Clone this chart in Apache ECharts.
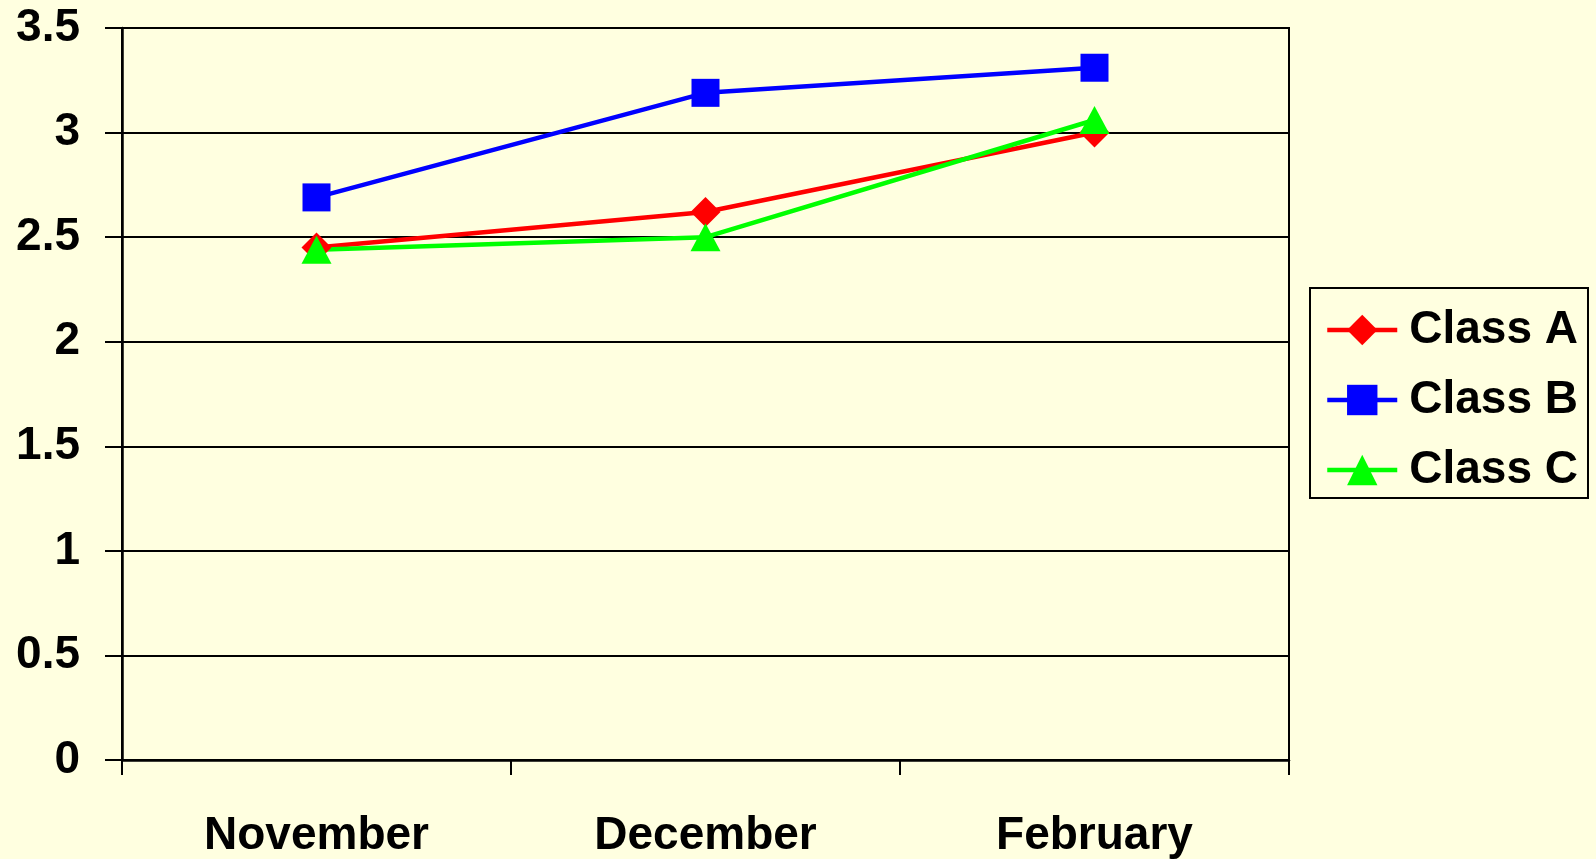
<!DOCTYPE html>
<html>
<head>
<meta charset="utf-8">
<script src="https://cdn.jsdelivr.net/npm/echarts@6/dist/echarts.min.js"></script>
<style>
  html, body { margin: 0; padding: 0; background: #ffffe0; }
  #main { width: 1596px; height: 859px; }
</style>
</head>
<body>
<div id="main"></div>
<script>
// data
var months = ['November', 'December', 'February'];
var classA = [2.45, 2.62, 3.0];
var classB = [2.69, 3.19, 3.31];
var classC = [2.44, 2.5, 3.06];
var yTicks = [0, 0.5, 1, 1.5, 2, 2.5, 3, 3.5];

var font = '"Liberation Sans", Arial, sans-serif';

var chart = echarts.init(document.getElementById('main'));

function lineSeries(name, data, color, symbol, size) {
    return {
        name: name,
        type: 'line',
        data: data,
        symbol: symbol,
        symbolSize: size,
        showAllSymbol: true,
        lineStyle: { color: color, width: 4.5 },
        itemStyle: { color: color },
        emphasis: { disabled: true },
        animation: false
    };
}

chart.setOption({
    backgroundColor: '#ffffe0',
    textStyle: { fontFamily: font },
    grid: {
        left: 122,
        right: 307,
        top: 28,
        bottom: 99,
        show: true,
        borderColor: '#000',
        borderWidth: 2,
        backgroundColor: 'transparent'
    },
    legend: {
        left: 1310,
        top: 288,
        orient: 'vertical',
        backgroundColor: '#ffffe0',
        borderColor: '#000',
        borderWidth: 2,
        borderRadius: 0,
        padding: [19, 10, 5, 15],
        itemWidth: 70,
        itemHeight: 38,
        itemGap: 24,
        lineStyle: { width: 4.5 },
        textStyle: {
            fontFamily: font,
            fontWeight: 'bold',
            fontSize: 46,
            color: '#000',
            padding: [0, 0, 0, 7]
        },
        data: ['Class A', 'Class B', 'Class C']
    },
    xAxis: {
        type: 'category',
        data: months,
        boundaryGap: true,
        axisLine: { lineStyle: { color: '#000', width: 2.5 } },
        axisTick: { show: true, length: 15, lineStyle: { color: '#000', width: 2 } },
        axisLabel: {
            margin: 53,
            fontFamily: font,
            fontWeight: 'bold',
            fontSize: 46,
            color: '#000'
        },
        splitLine: { show: false }
    },
    yAxis: {
        type: 'value',
        min: yTicks[0],
        max: yTicks[yTicks.length - 1],
        interval: 0.5,
        axisLine: { show: true, lineStyle: { color: '#000', width: 2.5 } },
        axisTick: { show: true, length: 17, lineStyle: { color: '#000', width: 2 } },
        axisLabel: {
            margin: 42,
            fontFamily: font,
            fontWeight: 'bold',
            fontSize: 46,
            color: '#000'
        },
        splitLine: { show: true, lineStyle: { color: '#000', width: 2 } }
    },
    series: [
        lineSeries('Class A', classA, '#ff0000', 'diamond', [30, 30]),
        lineSeries('Class B', classB, '#0000ff', 'rect', [28, 28]),
        lineSeries('Class C', classC, '#00ff00', 'triangle', [30, 28])
    ]
});
</script>
</body>
</html>
